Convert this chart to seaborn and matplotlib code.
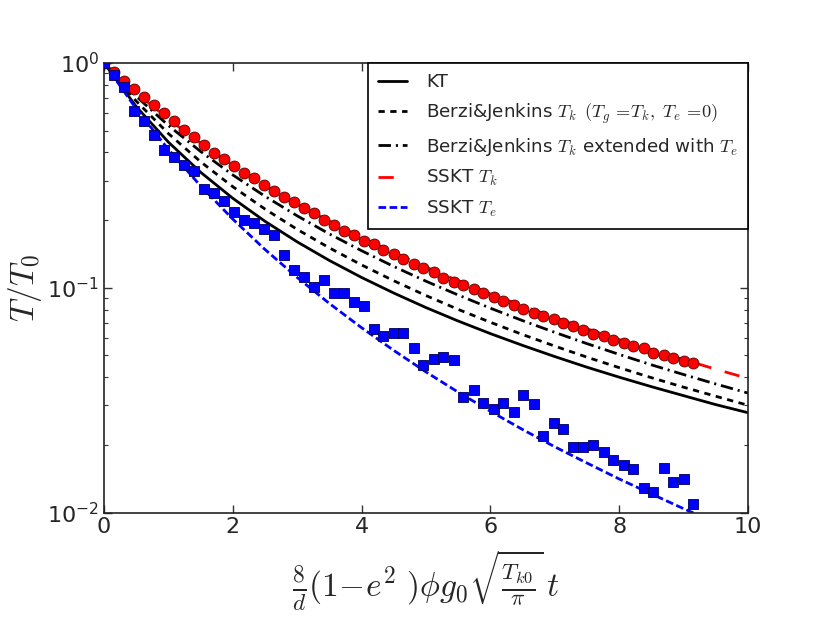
import pandas as pd
import matplotlib
matplotlib.use("Agg")
import matplotlib.pyplot as plt
import seaborn as sns

# sample times of the simulation markers
t_sim = [0.00, 0.16, 0.31, 0.47, 0.62, 0.78, 0.93, 1.09, 1.24, 1.40,
         1.55, 1.71, 1.86, 2.02, 2.17, 2.33, 2.48, 2.64, 2.79, 2.95,
         3.10, 3.26, 3.41, 3.57, 3.72, 3.88, 4.03, 4.19, 4.34, 4.50,
         4.65, 4.81, 4.96, 5.12, 5.27, 5.43, 5.58, 5.74, 5.89, 6.05,
         6.20, 6.36, 6.51, 6.67, 6.82, 6.98, 7.13, 7.29, 7.44, 7.60,
         7.76, 7.91, 8.07, 8.22, 8.38, 8.53, 8.69, 8.84, 9.00, 9.15]

# simulation, kinetic temperature (red circles)
tk_sim = [1.000, 0.912, 0.834, 0.764, 0.704, 0.648, 0.597, 0.550, 0.503, 0.467,
          0.433, 0.399, 0.375, 0.348, 0.325, 0.308, 0.286, 0.269, 0.254, 0.241,
          0.226, 0.214, 0.201, 0.191, 0.179, 0.171, 0.162, 0.156, 0.147, 0.141,
          0.134, 0.128, 0.123, 0.117, 0.111, 0.106, 0.103, 0.0985, 0.0945, 0.0907,
          0.0876, 0.0835, 0.0802, 0.0774, 0.0748, 0.0724, 0.0699, 0.0676, 0.0649, 0.0625,
          0.0610, 0.0585, 0.0566, 0.0551, 0.0538, 0.0514, 0.0501, 0.0487, 0.0471, 0.0461]

# simulation, Te (blue squares)
te_sim = [1.000, 0.887, 0.780, 0.614, 0.554, 0.477, 0.411, 0.380, 0.353, 0.330,
          0.276, 0.265, 0.244, 0.217, 0.200, 0.195, 0.183, 0.1725, 0.140, 0.120,
          0.1116, 0.1011, 0.1083, 0.0951, 0.0951, 0.0864, 0.0829, 0.0657, 0.0613, 0.0626,
          0.0631, 0.0539, 0.0452, 0.0482, 0.0492, 0.0477, 0.0327, 0.0351, 0.0306, 0.0290,
          0.0306, 0.0280, 0.0333, 0.0304, 0.0219, 0.0251, 0.0236, 0.0195, 0.0195, 0.0199,
          0.0186, 0.0171, 0.0163, 0.0156, 0.0129, 0.0124, 0.0157, 0.0136, 0.0141, 0.0109]

# theory curves
t_th = [0.0, 0.5, 1.0, 1.5, 2.0, 2.5, 3.0, 3.5, 4.0, 4.5, 5.0,
        5.5, 6.0, 6.5, 7.0, 7.5, 8.0, 8.5, 9.0, 9.5, 10.0]
kt = [1.0, 0.640, 0.4444, 0.3265, 0.250, 0.1975, 0.160, 0.1322, 0.1111, 0.0947, 0.0816,
      0.0711, 0.0625, 0.0554, 0.0494, 0.0443, 0.0400, 0.0363, 0.0331, 0.0302, 0.0278]
bj_tk = [1.0, 0.6766, 0.4853, 0.3635, 0.2815, 0.2239, 0.1818, 0.1504, 0.1263, 0.1074, 0.0923,
         0.0801, 0.0702, 0.0619, 0.0550, 0.0491, 0.0441, 0.0398, 0.0361, 0.0329, 0.0300]
bj_ext = [1.0, 0.7110, 0.5272, 0.4039, 0.3176, 0.2553, 0.2089, 0.1735, 0.1461, 0.1243, 0.1069,
          0.0928, 0.0811, 0.0714, 0.0633, 0.0564, 0.0505, 0.0454, 0.0411, 0.0373, 0.0340]
sskt_tk = [1.0, 0.738, 0.5625, 0.4398, 0.3514, 0.2858, 0.2361, 0.1976, 0.1674, 0.1431, 0.1235,
           0.1074, 0.0941, 0.0830, 0.0736, 0.0657, 0.0588, 0.0529, 0.0479, 0.0434, 0.0395]
sskt_te = [1.0, 0.6256, 0.4126, 0.2838, 0.2020, 0.1480, 0.1111, 0.0851, 0.0664, 0.0526, 0.0422,
           0.0343, 0.0282, 0.0234, 0.0196, 0.0166, 0.0141, 0.0121, 0.0104, 0.0090, 0.0078]

labels = ['KT',
          r'Berzi&Jenkins $T_k$ $\,(T_g\,=\!T_k,\ T_e\,=\!0)$',
          r'Berzi&Jenkins $T_k$ extended with $T_e$',
          r'SSKT $T_k$',
          r'SSKT $T_e$']

sns.set_style("ticks")
plt.rcParams['font.family'] = ['DejaVu Sans']
plt.rcParams['mathtext.fontset'] = 'cm'
plt.rcParams['lines.scale_dashes'] = False

fig = plt.figure(figsize=(8.3, 6.26), dpi=100)
ax = fig.add_axes([0.1253, 0.1813, 0.7759, 0.7181])

th = pd.DataFrame({'t': t_th, 'kt': kt, 'bj_tk': bj_tk, 'bj_ext': bj_ext,
                   'sskt_tk': sskt_tk, 'sskt_te': sskt_te})
sim = pd.DataFrame({'t': t_sim, 'tk': tk_sim, 'te': te_sim})

sns.lineplot(data=th, x='t', y='kt', color='black', lw=2, linestyle='-',
             label=labels[0], ax=ax)
sns.lineplot(data=th, x='t', y='bj_tk', color='black', lw=2,
             linestyle=(0, (4.5, 4)), label=labels[1], ax=ax)
sns.lineplot(data=th, x='t', y='bj_ext', color='black', lw=2,
             linestyle=(0, (9, 3.5, 1.5, 3.5)), label=labels[2], ax=ax)
sns.lineplot(data=th, x='t', y='sskt_tk', color='red', lw=2,
             linestyle=(0, (11, 10)), label=labels[3], ax=ax)
sns.lineplot(data=th, x='t', y='sskt_te', color='blue', lw=2,
             linestyle=(0, (5.5, 2.5)), label=labels[4], ax=ax)

sns.scatterplot(data=sim, x='t', y='tk', marker='o', s=62, color='red',
                edgecolor='#550000', linewidth=0.6, zorder=3, ax=ax, legend=False)
sns.scatterplot(data=sim, x='t', y='te', marker='s', s=55, color='blue',
                edgecolor='#000055', linewidth=0.6, zorder=3, ax=ax, legend=False)

ax.set_yscale('log')
ax.set_xlim(0, 10)
ax.set_ylim(0.01, 1)
ax.set_xticks([0, 2, 4, 6, 8, 10])

ax.tick_params(which='both', direction='in', top=True, right=True, labelsize=16,
               color='#333333')
ax.tick_params(which='major', length=6, width=1)
ax.tick_params(which='minor', length=3, width=0.8)
ax.tick_params(axis='x', which='minor', bottom=False, top=False)
for sp in ax.spines.values():
    sp.set_color('#222222')
    sp.set_linewidth(1.2)

ax.set_xlabel(r'$\frac{8}{d}(1\!-\!e^{2}\ )\phi g_0\sqrt{\frac{T_{k0}}{\pi}}\,t$',
              fontsize=24, labelpad=8)
ax.set_ylabel(r'$T/T_0$', fontsize=24, labelpad=2)

handles, lab = ax.get_legend_handles_labels()
leg = ax.legend(handles[:5], lab[:5], loc='upper right', borderaxespad=0,
                fontsize=13.2, frameon=True, fancybox=False, framealpha=1,
                edgecolor='black', handlelength=1.55, handletextpad=1.05,
                labelspacing=0.56, borderpad=0.55)
leg.get_frame().set_linewidth(1.2)

fig.savefig('out.png', dpi=100, facecolor='white')
